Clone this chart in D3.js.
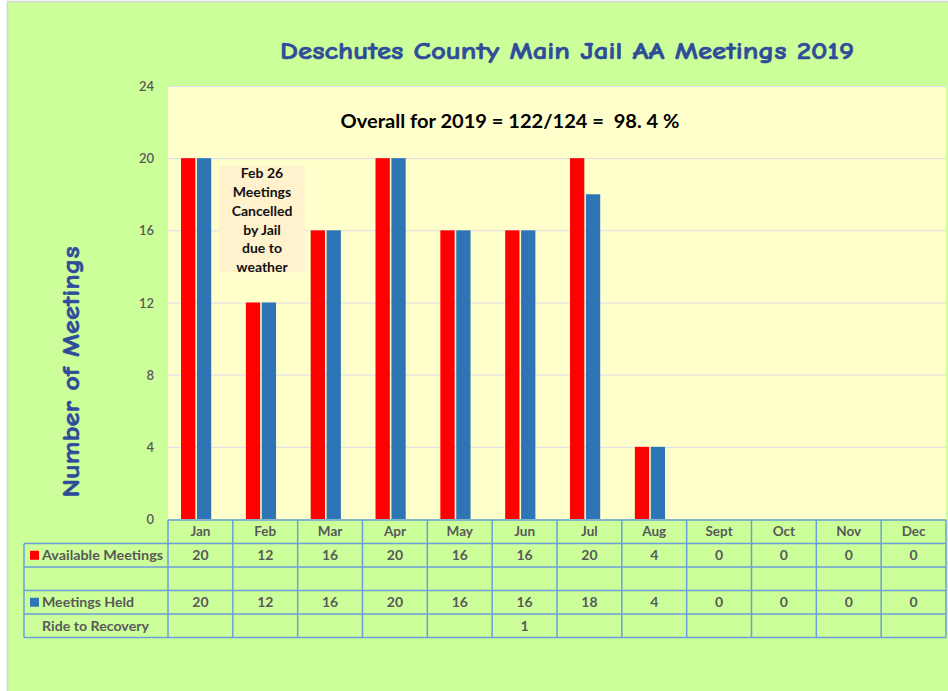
<!DOCTYPE html>
<html>
<head>
<meta charset="utf-8">
<script src="https://cdn.jsdelivr.net/npm/d3@7"></script>
<style>
  html, body { margin: 0; padding: 0; background: #ffffff; }
  svg { display: block; }
  text { white-space: pre; }
</style>
</head>
<body>
<svg id="chart" width="948" height="691"></svg>
<script>
// ---- data ----
const months = ["Jan", "Feb", "Mar", "Apr", "May", "Jun", "Jul", "Aug", "Sept", "Oct", "Nov", "Dec"];
const availableMeetings = [20, 12, 16, 20, 16, 16, 20, 4, 0, 0, 0, 0];
const meetingsHeld = [20, 12, 16, 20, 16, 16, 18, 4, 0, 0, 0, 0];
const rideToRecovery = [null, null, null, null, null, 1, null, null, null, null, null, null];
const yTicks = [0, 4, 8, 12, 16, 20, 24];
const seriesNames = ["Available Meetings", "Meetings Held"];
const titleText = "Deschutes County Main Jail AA Meetings 2019";
const yTitle = "Number of Meetings";
const overallNote = "Overall for 2019 = 122/124 =  98. 4 %";
const febNote = ["Feb 26", "Meetings", "Cancelled", "by Jail", "due to", "weather"];

// ---- layout ----
const W = 948, H = 691;
const plot = { left: 168, right: 946, top: 86, bottom: 519 };
const tableLeft = 24;
const rowH = 23.5;
const colors = { avail: "#ff0000", held: "#2e75b6" };
const txtGray = "#595959";
const bodyFont = "Lato, 'Open Sans', sans-serif";
const titleFont = "'Comic Sans MS', 'Comic Neue', Lato, sans-serif";

const svg = d3.select("#chart");

// outer background
svg.append("rect").attr("x", 0).attr("y", 0).attr("width", W).attr("height", H).attr("fill", "#ffffff");
svg.append("rect").attr("x", 7.5).attr("y", 1.5).attr("width", W).attr("height", H)
  .attr("fill", "#ccff99").attr("stroke", "#d4d4d4").attr("stroke-width", 1.5);

// scales
const x = d3.scaleBand().domain(months).range([plot.left, plot.right]).paddingInner(0).paddingOuter(0);
const y = d3.scaleLinear().domain([0, 24]).range([plot.bottom, plot.top]);
const barW = 14.3, barGap = 1.6, barShift = -4.3;
const xs = d3.scaleBand().domain(["avail", "held"])
  .range([0, barW * 2 + barGap]).paddingInner(barGap / (barW + barGap)).paddingOuter(0);

// plot area
svg.append("rect").attr("x", plot.left).attr("y", plot.top)
  .attr("width", plot.right - plot.left).attr("height", plot.bottom - plot.top)
  .attr("fill", "#ffffcc");

// gridlines
svg.append("g").selectAll("line").data(yTicks.filter(d => d > 0)).join("line")
  .attr("x1", plot.left).attr("x2", plot.right)
  .attr("y1", d => y(d) + 0.5).attr("y2", d => y(d) + 0.5)
  .attr("stroke", "#dcdce8").attr("stroke-width", 1);

// y axis labels
const yAxis = d3.axisLeft(y).tickValues(yTicks).tickSize(0).tickPadding(0).tickFormat(d3.format("d"));
const gy = svg.append("g").attr("transform", `translate(${plot.left - 14},0)`).call(yAxis);
gy.select(".domain").remove();
gy.selectAll("text").attr("font-family", bodyFont).attr("font-size", 13).attr("font-weight", 600)
  .attr("fill", txtGray).attr("dy", "0.35em");

// bars
const cluster = (i) => x(months[i]) + x.bandwidth() / 2 - xs.range()[1] / 2 + barShift;
const barG = svg.append("g");
barG.selectAll("rect.avail").data(availableMeetings).join("rect").attr("class", "avail")
  .attr("x", (d, i) => cluster(i) + xs("avail")).attr("width", xs.bandwidth())
  .attr("y", d => y(d)).attr("height", d => y(0) - y(d)).attr("fill", colors.avail);
barG.selectAll("rect.held").data(meetingsHeld).join("rect").attr("class", "held")
  .attr("x", (d, i) => cluster(i) + xs("held")).attr("width", xs.bandwidth())
  .attr("y", d => y(d)).attr("height", d => y(0) - y(d)).attr("fill", colors.held);

// title
svg.append("text").attr("x", 567).attr("y", 59).attr("text-anchor", "middle")
  .attr("font-family", titleFont).attr("font-size", 25).attr("font-weight", 700)
  .attr("fill", "#2f4c9a").attr("stroke", "#2f4c9a").attr("stroke-width", 0.6)
  .attr("textLength", 574).attr("lengthAdjust", "spacingAndGlyphs")
  .text(titleText);

// y title
svg.append("text").attr("transform", "translate(79,372) rotate(-90)").attr("text-anchor", "middle")
  .attr("font-family", titleFont).attr("font-size", 25).attr("font-weight", 700)
  .attr("fill", "#2f4c9a").attr("stroke", "#2f4c9a").attr("stroke-width", 0.6)
  .attr("textLength", 251).attr("lengthAdjust", "spacingAndGlyphs")
  .text(yTitle);

// overall note
svg.append("text").attr("x", 510).attr("y", 128).attr("text-anchor", "middle")
  .attr("font-family", bodyFont).attr("font-size", 19).attr("font-weight", 700)
  .attr("fill", "#000000").attr("textLength", 339).attr("lengthAdjust", "spacingAndGlyphs")
  .attr("xml:space", "preserve")
  .text(overallNote);

// Feb note box
svg.append("rect").attr("x", 218.5).attr("y", 166).attr("width", 86.5).attr("height", 106.5)
  .attr("fill", "#fff2cc");
svg.append("g").selectAll("text").data(febNote).join("text")
  .attr("x", 262).attr("y", (d, i) => 173.5 + i * 18.7).attr("dy", "0.35em")
  .attr("text-anchor", "middle").attr("font-family", bodyFont).attr("font-size", 14)
  .attr("font-weight", 700).attr("fill", "#111111").text(d => d);

// data table
const tbl = svg.append("g");
const headerTop = plot.bottom + 1;
const rowsTop = headerTop + rowH;
const tableRows = [
  { label: seriesNames[0], key: colors.avail, values: availableMeetings, len: 121 },
  { label: "", key: null, values: months.map(() => null), len: null },
  { label: seriesNames[1], key: colors.held, values: meetingsHeld, len: 92 },
  { label: "Ride to Recovery", key: null, values: rideToRecovery, len: 107 }
];
const border = "#6a9fdc";

// header row labels
tbl.selectAll("text.month").data(months).join("text").attr("class", "month")
  .attr("x", d => x(d) + x.bandwidth() / 2).attr("y", headerTop + rowH / 2).attr("dy", "0.35em")
  .attr("text-anchor", "middle").attr("font-family", bodyFont).attr("font-size", 13.5)
  .attr("font-weight", 700).attr("fill", txtGray).text(d => d);

tableRows.forEach((row, r) => {
  const ry = rowsTop + r * rowH;
  if (row.key) {
    tbl.append("rect").attr("x", 30).attr("y", ry + rowH / 2 - 4.5).attr("width", 9).attr("height", 9).attr("fill", row.key);
  }
  if (row.label) {
    tbl.append("text").attr("x", 42).attr("y", ry + rowH / 2).attr("dy", "0.35em")
      .attr("font-family", bodyFont).attr("font-size", 14).attr("font-weight", 700)
      .attr("fill", txtGray).attr("textLength", row.len)
      .attr("lengthAdjust", "spacingAndGlyphs").text(row.label);
  }
  tbl.selectAll(null).data(row.values).join("text")
    .attr("x", (d, i) => x(months[i]) + x.bandwidth() / 2).attr("y", ry + rowH / 2).attr("dy", "0.35em")
    .attr("text-anchor", "middle").attr("font-family", bodyFont).attr("font-size", 14)
    .attr("font-weight", 700).attr("fill", txtGray).text(d => d == null ? "" : d);
});

// table grid lines
const tableBottom = rowsTop + tableRows.length * rowH;
const hLines = [headerTop];
for (let r = 0; r <= tableRows.length; r++) hLines.push(rowsTop + r * rowH);
tbl.selectAll("line.h").data(hLines).join("line").attr("class", "h")
  .attr("x1", (d, i) => i === 0 ? plot.left : tableLeft).attr("x2", plot.right)
  .attr("y1", d => d).attr("y2", d => d).attr("stroke", border).attr("stroke-width", 1.5);
const vCols = months.map(m => x(m)).concat([plot.right]);
tbl.selectAll("line.v").data(vCols).join("line").attr("class", "v")
  .attr("x1", d => d).attr("x2", d => d).attr("y1", headerTop).attr("y2", tableBottom)
  .attr("stroke", border).attr("stroke-width", 1.5);
tbl.append("line").attr("x1", tableLeft).attr("x2", tableLeft).attr("y1", rowsTop).attr("y2", tableBottom)
  .attr("stroke", border).attr("stroke-width", 1.5);
</script>
</body>
</html>
